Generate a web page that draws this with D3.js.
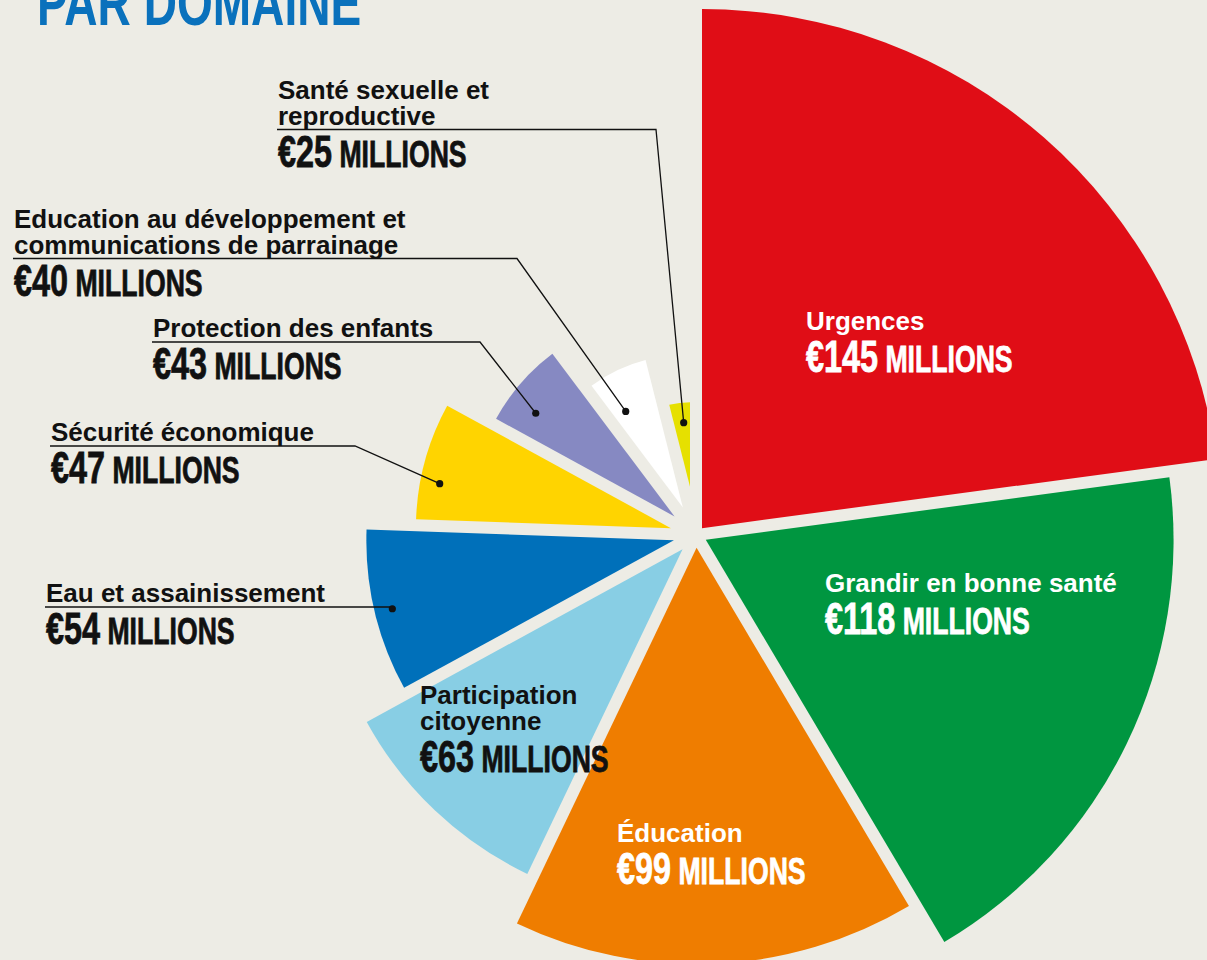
<!DOCTYPE html>
<html lang="fr">
<head>
  <meta charset="UTF-8">
  <title>Par domaine</title>
  <script src="https://d3js.org/d3.v7.min.js"></script>
  <style>
    body { margin: 0; background: #edece5; }
    svg { display: block; }
  </style>
</head>
<body>
  <svg width="1207" height="960"></svg>

  <script>
    // data: spending by domain (millions of euros), largest first
    const categories = [
      "Urgences",
      "Grandir en bonne santé",
      "Éducation",
      "Participation citoyenne",
      "Eau et assainissement",
      "Sécurité économique",
      "Protection des enfants",
      "Education au développement et communications de parrainage",
      "Santé sexuelle et reproductive"
    ];
    const values = [145, 118, 99, 63, 54, 47, 43, 40, 25];
    const unitLabel = "MILLIONS";

    const colors = ["#e00d16", "#009640", "#ef7d00", "#88cee4", "#0070ba",
                    "#ffd400", "#8689c2", "#ffffff", "#e6e000"];
    const textColors = ["#fff", "#fff", "#fff", "#111", "#111", "#111", "#111", "#111", "#111"];

    // label placement: first baseline, words on first line, end of the underline,
    // and where the dot sits inside the slice (fraction of its angle, inset from the rim)
    const labelLayout = [
      { x: 806, y: 330, words: 1 },
      { x: 825, y: 592, words: 4 },
      { x: 617, y: 842, words: 1 },
      { x: 420, y: 704, words: 1 },
      { x: 46,  y: 602, words: 3, elbow: 390, at: 0.49, inset: 17 },
      { x: 51,  y: 441, words: 2, elbow: 355, at: 0.35, inset: 19 },
      { x: 153, y: 337, words: 3, elbow: 480, at: 0.35, inset: 30 },
      { x: 14,  y: 228, words: 4, elbow: 517, at: 0.32, inset: 40 },
      { x: 278, y: 99,  words: 3, elbow: 656, at: 0.56, inset: 20 }
    ];

    const width = 1207, height = 960;
    const cx = 696, cy = 535;
    const gap = 12;           // width of the gaps between slices
    const lineH = 25.5;

    const svg = d3.select("svg");

    svg.append("rect")
      .attr("width", width)
      .attr("height", height)
      .attr("fill", "#edece5");

    // title (cut off at the top of the page)
    svg.append("text")
      .attr("transform", "translate(37,25) scale(0.72,1)")
      .style("font-family", "'Liberation Sans', Arial, sans-serif")
      .style("font-weight", "bold")
      .style("font-size", "64px")
      .attr("fill", "#0a71bc")
      .text("PAR DOMAINE");

    const data = categories.map((c, i) => ({ name: c, value: values[i], i: i }));

    const pie = d3.pie()
      .sort(null)
      .value(d => d.value)
      .startAngle(0)
      .endAngle(2 * Math.PI);

    const arcs = pie(data);

    // radius grows by rank
    const r = d3.scaleLinear()
      .domain([0, values.length - 1])
      .range([526, 133]);

    const arc = d3.arc().innerRadius(0);

    const g = svg.append("g").attr("transform", "translate(" + cx + "," + cy + ")");

    // each slice is pushed out along its bisector so the gaps stay parallel
    g.selectAll(".slice")
      .data(arcs)
      .enter().append("path")
      .attr("class", "slice")
      .attr("fill", d => colors[d.data.i])
      .attr("d", d => {
        const h = (d.endAngle - d.startAngle) / 2;
        const off = (gap / 2) / Math.sin(h);
        const rt = r(d.data.i);
        const R = Math.sqrt(rt * rt - gap * gap / 4) - off * Math.cos(h);
        return arc.outerRadius(R)(d);
      })
      .attr("transform", d => {
        const h = (d.endAngle - d.startAngle) / 2;
        const off = (gap / 2) / Math.sin(h);
        const mid = (d.startAngle + d.endAngle) / 2;
        return "translate(" + (off * Math.sin(mid)) + "," + (-off * Math.cos(mid)) + ")";
      });

    // dot position for an outside label
    function dotPos(d, lay) {
      const a = d.startAngle + lay.at * (d.endAngle - d.startAngle);
      const rr = r(d.data.i) - lay.inset;
      return [cx + rr * Math.sin(a), cy - rr * Math.cos(a)];
    }

    const labels = svg.append("g");

    arcs.forEach(d => {
      const i = d.data.i;
      const lay = labelLayout[i];
      const words = d.data.name.split(" ");
      const lines = [words.slice(0, lay.words).join(" ")];
      if (words.length > lay.words) lines.push(words.slice(lay.words).join(" "));
      const lastY = lay.y + (lines.length - 1) * lineH;

      const t = labels.append("text")
        .attr("x", lay.x)
        .attr("y", lay.y)
        .attr("fill", textColors[i])
        .style("font-family", "'Liberation Sans', Arial, sans-serif")
        .style("font-weight", "bold")
        .style("font-size", "26px");
      lines.forEach((ln, k) => {
        t.append("tspan")
          .attr("x", lay.x)
          .attr("y", lay.y + k * lineH)
          .text(ln);
      });

      // amount in condensed caps
      const amt = labels.append("text")
        .attr("transform", "translate(" + lay.x + "," + (lastY + 42) + ") scale(0.72,1)")
        .attr("fill", textColors[i])
        .attr("stroke", textColors[i])
        .attr("stroke-width", 0.8)
        .style("font-family", "'Liberation Sans', Arial, sans-serif")
        .style("font-weight", "bold");
      amt.append("tspan")
        .style("font-size", "45px")
        .text("€" + values[i]);
      amt.append("tspan")
        .style("font-size", "37px")
        .text(" " + unitLabel);

      // leader line + dot
      if (lay.elbow !== undefined) {
        const p = dotPos(d, lay);
        const uy = lastY + 5;
        labels.append("path")
          .attr("d", d3.line()([[lay.x - 1, uy], [lay.elbow, uy], p]))
          .attr("fill", "none")
          .attr("stroke", "#111")
          .attr("stroke-width", 1.3);
        labels.append("circle")
          .attr("cx", p[0])
          .attr("cy", p[1])
          .attr("r", 3.6)
          .attr("fill", "#111");
      }
    });
  </script>
</body>
</html>
